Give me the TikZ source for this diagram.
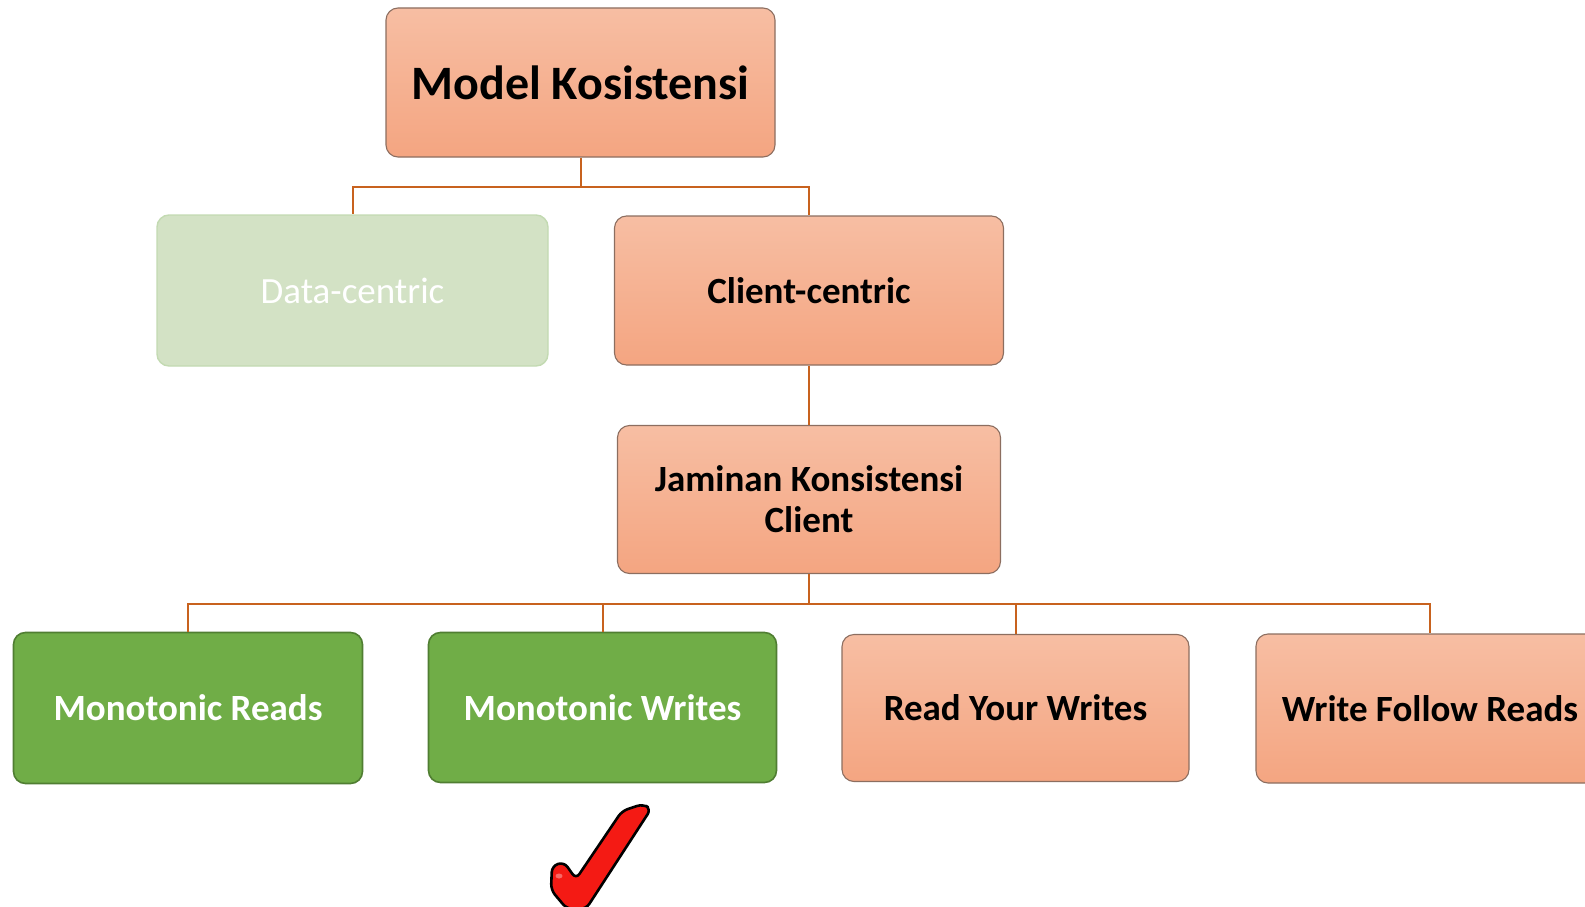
\documentclass[tikz,border=0pt]{standalone}
\usepackage{fontspec}
\setmainfont{Carlito}
\definecolor{salmonTop}{HTML}{F7BEA3}
\definecolor{salmonBot}{HTML}{F4A581}
\definecolor{salmonLine}{HTML}{8C6E60}
\definecolor{greenFill}{HTML}{70AD47}
\definecolor{greenLine}{HTML}{507E32}
\definecolor{paleFill}{HTML}{D3E2C5}
\definecolor{paleLine}{HTML}{C3DAB2}
\definecolor{linkCol}{HTML}{C8621E}
\definecolor{tickRed}{HTML}{F41A14}
\tikzset{
  box/.style={rounded corners=12pt, align=center, inner sep=0pt, font=\bfseries\fontsize{37}{41}\selectfont},
  salmon/.style={box, top color=salmonTop, bottom color=salmonBot, draw=salmonLine, line width=1.1pt, text=black},
  greenbox/.style={box, fill=greenFill, draw=greenLine, line width=1.6pt, text=white},
  palebox/.style={box, fill=paleFill, draw=paleLine, line width=1.4pt, text=white, font=\fontsize{37}{41}\selectfont},
  link/.style={draw=linkCol, line width=2pt}
}
\begin{document}
\begin{tikzpicture}[x=1pt,y=-1pt]
\useasboundingbox (0,0) rectangle (1585,907);
\clip (0,0) rectangle (1585,907);

% tree nodes
\node[salmon, minimum width=389pt, minimum height=149pt, font=\bfseries\fontsize{48}{56}\selectfont] (root) at (580.5,82.5) {Model Kosistensi};
\node[palebox, minimum width=391pt, minimum height=151pt] (data) at (352.5,290.5) {Data-centric};
\node[salmon, minimum width=389pt, minimum height=149pt] (client) at (809,290.5) {Client-centric};
\node[salmon, minimum width=383pt, minimum height=148pt] (jam) at (809,499.5) {Jaminan Konsistensi\\Client};
\node[greenbox, minimum width=349pt, minimum height=151pt] (mr) at (188,708) {Monotonic Reads};
\node[greenbox, minimum width=348pt, minimum height=150pt] (mw) at (602.5,707.5) {Monotonic Writes};
\node[salmon, minimum width=347pt, minimum height=147pt] (ryw) at (1015.5,708) {Read Your Writes};
\node[salmon, minimum width=348pt, minimum height=149pt] (wfr) at (1430,708.5) {Write Follow Reads};

% elbow connectors
\coordinate (b1) at (0,187);
\coordinate (b2) at (0,603.5);
\draw[link] (root.south) -- (root.south |- b1) -| (data.north);
\draw[link] (root.south |- b1) -| (client.north);
\draw[link] (client.south) -- (jam.north);
\draw[link] (jam.south) -- (jam.south |- b2) -| (mr.north);
\draw[link] (jam.south |- b2) -| (mw.north);
\draw[link] (jam.south |- b2) -| (ryw.north);
\draw[link] (jam.south |- b2) -| (wfr.north);

% check mark under Monotonic Writes
\draw[fill=tickRed, draw=black, line width=2.6pt, rounded corners=6pt, line join=round]
  (651,809) -- (643,804) -- (622,811) -- (576,879) -- (564,862) -- (552,866)
  -- (551,890) -- (567,909) -- (586,909) -- cycle;
\fill[white, opacity=0.35] (559,876) ellipse (3.5pt and 2.5pt);
\end{tikzpicture}
\end{document}
